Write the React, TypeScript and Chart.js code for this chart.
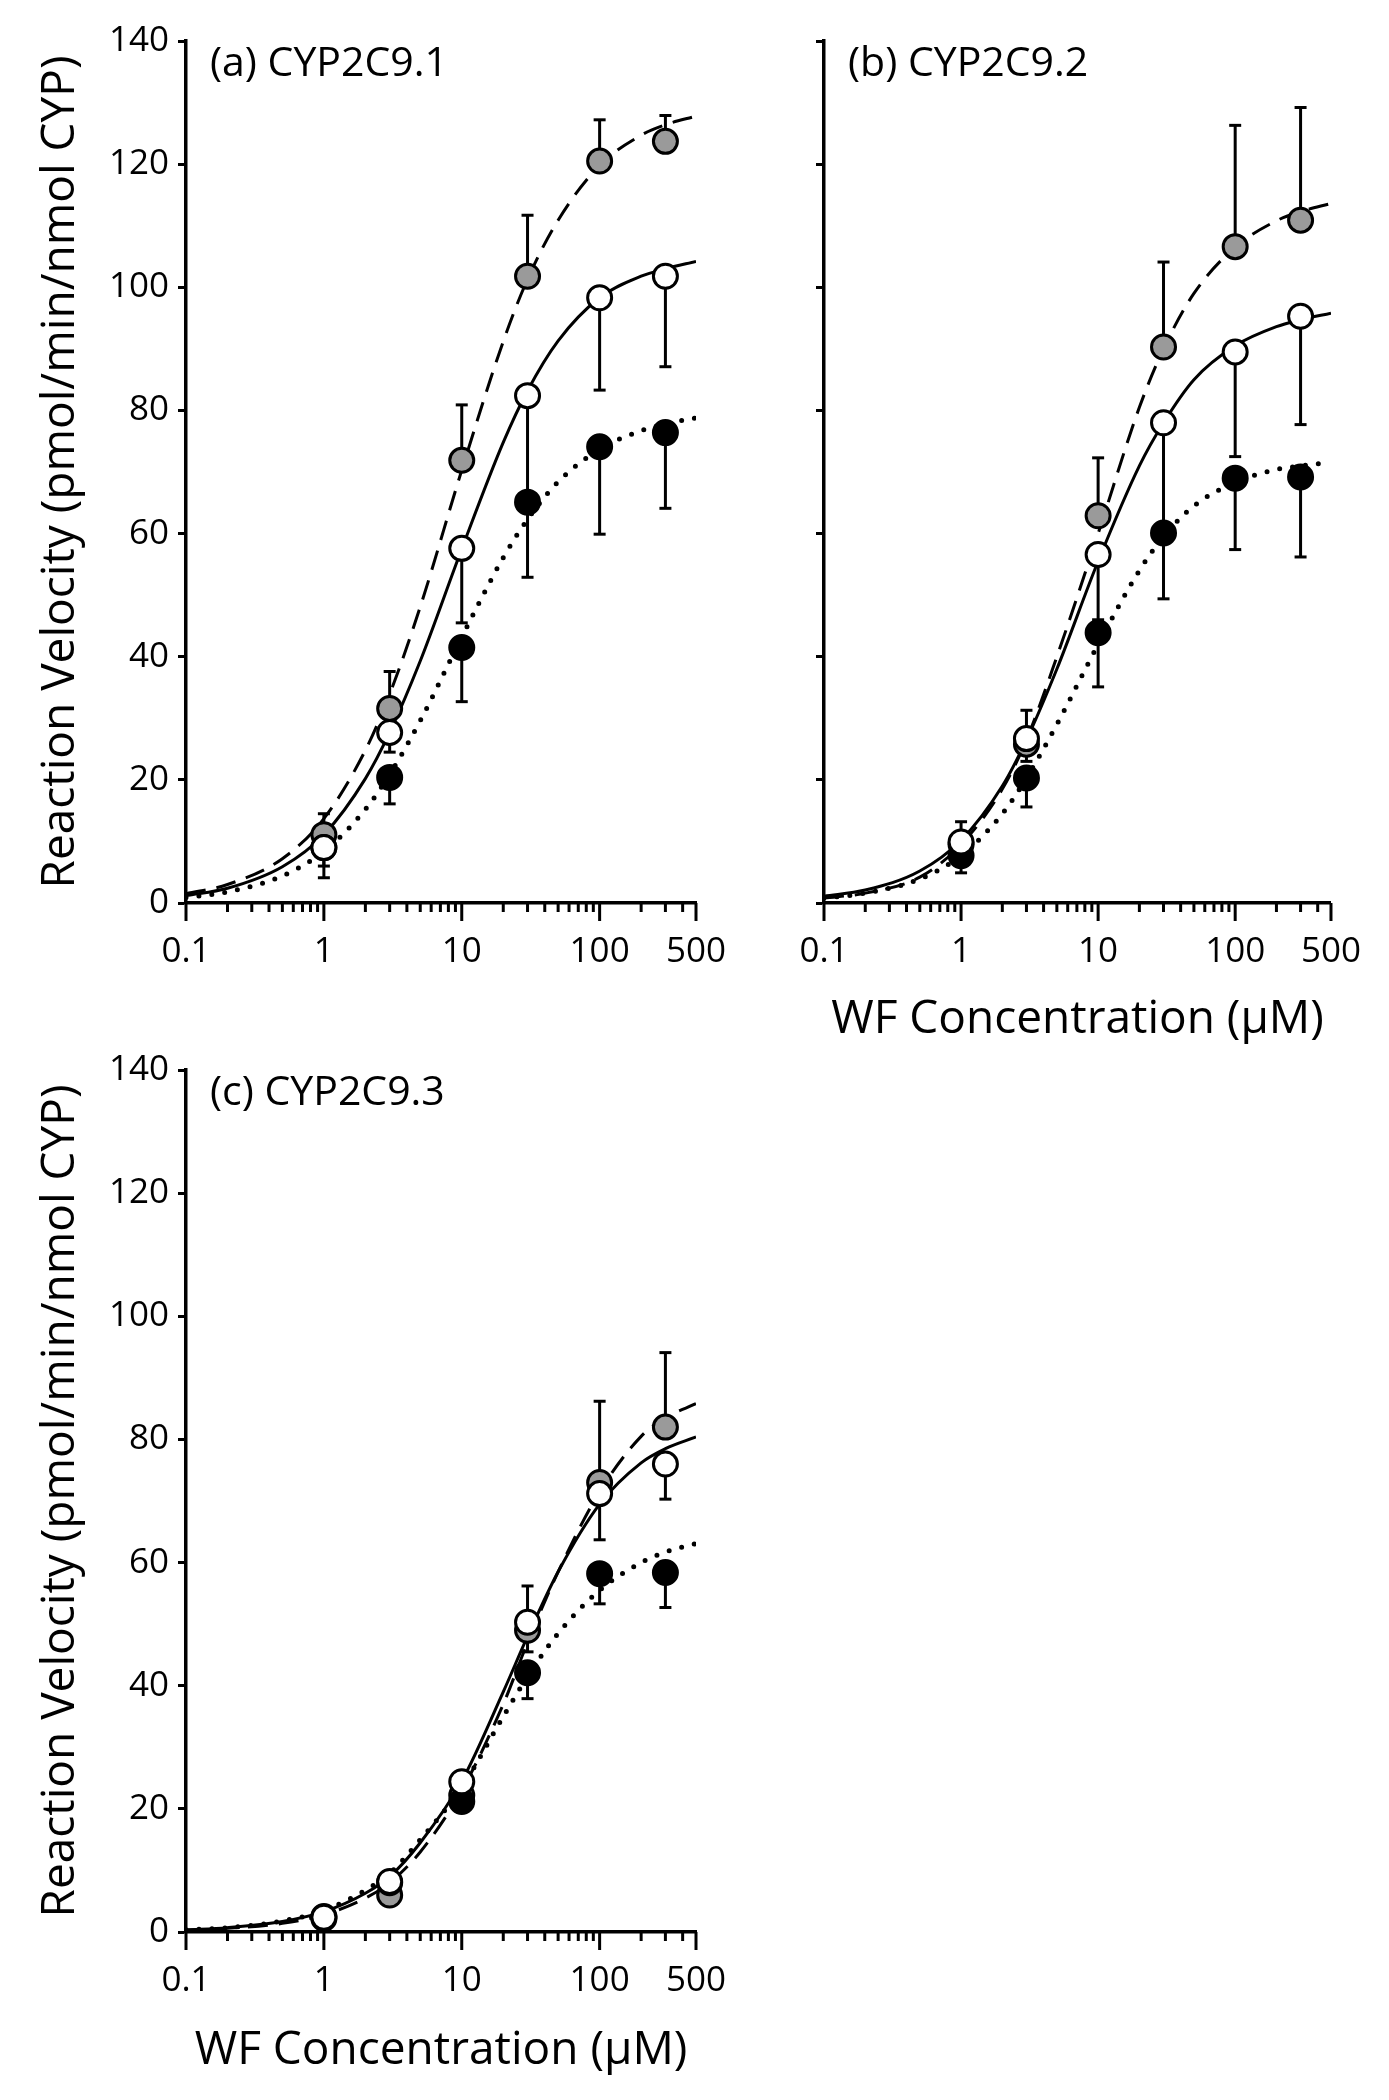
import React, { useEffect, useRef } from 'react';
import { Chart, registerables } from 'chart.js';

Chart.register(...registerables);

const FONT = "'Open Sans', 'Noto Sans', sans-serif";

// ---- axis text ----
const Y_TITLE = 'Reaction Velocity (pmol/min/nmol CYP)';
const X_TITLE = 'WF Concentration (μM)';
const X_LABELED = [0.1, 1, 10, 100, 500];
const X_TICK_LABELS = ['0.1', '1', '10', '100', '500'];
const X_MINOR = [0.2, 0.3, 0.4, 0.5, 0.6, 0.7, 0.8, 0.9, 2, 3, 4, 5, 6, 7, 8, 9, 20, 30, 40, 50, 60, 70, 80, 90, 200, 300, 400];
const X_MAJOR = [0.1, 1, 10, 100, 500];

// ---- measured concentrations ----
const CONC = [1, 3, 10, 30, 100, 300];

// ---- fitted curve sample points ----
const FIT_X = [0.1, 0.2, 0.5, 1, 2, 3, 5, 10, 20, 30, 50, 100, 200, 300, 500];

// Panel (a) CYP2C9.1
const A_TITLE = '(a) CYP2C9.1';
const A_GREY = [11.1, 31.6, 71.9, 101.8, 120.5, 123.7];
const A_GREY_ERR = [14.5, 37.6, 80.9, 111.7, 127.2, 127.9];
const A_WHITE = [9.0, 27.7, 57.6, 82.4, 98.3, 101.8];
const A_WHITE_ERR = [4.1, 24.5, 45.5, 64.0, 83.3, 87.1];
const A_BLACK = [9.0, 20.4, 41.5, 65.1, 74.1, 76.4];
const A_BLACK_ERR = [6.0, 16.1, 32.7, 52.9, 59.9, 64.1];
const A_GREY_FIT = [1.5, 3.0, 7.2, 13.7, 24.8, 33.9, 48.1, 70.3, 91.2, 101.3, 110.9, 119.8, 124.7, 126.4, 127.8];
const A_WHITE_FIT = [1.2, 2.4, 5.9, 11.1, 20.2, 27.7, 39.3, 57.5, 74.8, 83.2, 91.3, 98.3, 101.8, 103.0, 104.2];
const A_BLACK_FIT = [0.9, 1.8, 4.4, 8.4, 15.2, 20.9, 29.6, 43.2, 56.1, 62.3, 68.4, 73.7, 76.7, 77.8, 78.8];

// Panel (b) CYP2C9.2
const B_TITLE = '(b) CYP2C9.2';
const B_GREY = [9.5, 25.8, 62.9, 90.3, 106.6, 110.9];
const B_GREY_ERR = [13.2, 31.3, 72.3, 104.1, 126.3, 129.2];
const B_WHITE = [9.9, 26.7, 56.6, 78.0, 89.5, 95.3];
const B_WHITE_ERR = [6.0, 23.0, 46.0, 61.0, 72.5, 77.7];
const B_BLACK = [7.7, 20.3, 43.9, 60.1, 69.0, 69.2];
const B_BLACK_ERR = [4.9, 15.6, 35.1, 49.4, 57.4, 56.2];
const B_GREY_FIT = [0.8, 1.6, 4.2, 9.5, 18.5, 26.5, 40.0, 60.0, 80.5, 90.0, 99.0, 106.5, 110.8, 112.3, 113.6];
const B_WHITE_FIT = [1.1, 2.1, 5.2, 10.2, 19.0, 26.5, 38.0, 55.5, 71.0, 78.0, 85.0, 90.5, 93.6, 94.7, 95.8];
const B_BLACK_FIT = [0.8, 1.6, 3.9, 7.7, 14.5, 20.3, 29.0, 42.0, 54.0, 59.5, 64.5, 68.3, 70.4, 71.0, 71.6];

// Panel (c) CYP2C9.3
const C_TITLE = '(c) CYP2C9.3';
const C_GREY = [2.5, 6.0, 22.2, 49.0, 73.0, 82.0];
const C_GREY_ERR = [3.0, 7.0, 24.0, 56.2, 86.2, 94.1];
const C_WHITE = [2.4, 8.2, 24.4, 50.3, 71.2, 76.0];
const C_WHITE_ERR = [2.0, 7.0, 23.0, 45.5, 63.7, 70.3];
const C_BLACK = [2.2, 8.0, 21.2, 42.1, 58.2, 58.4];
const C_BLACK_ERR = [2.0, 6.0, 20.0, 37.9, 53.3, 52.7];
const C_GREY_FIT = [0.3, 0.6, 1.4, 2.8, 5.5, 8.0, 13.0, 23.0, 37.0, 47.0, 58.5, 71.5, 80.5, 83.5, 85.8];
const C_WHITE_FIT = [0.35, 0.7, 1.7, 3.3, 6.3, 9.0, 14.5, 24.5, 39.0, 48.0, 58.5, 69.5, 76.2, 78.5, 80.4];
const C_BLACK_FIT = [0.35, 0.7, 1.8, 3.5, 6.8, 9.5, 15.0, 23.5, 35.0, 41.5, 48.5, 55.5, 60.0, 61.7, 63.1];

const GREY = '#9a9a9a';

type Series = {
  title: string;
  grey: number[]; greyErr: number[];
  white: number[]; whiteErr: number[];
  black: number[]; blackErr: number[];
  greyFit: number[]; whiteFit: number[]; blackFit: number[];
};

type Layout = {
  left: number; top: number; w: number; h: number;
  padTop: number; padRight: number; yWidth: number; xHeight: number;
  yLabels: boolean; yTitle: boolean; xTitle: boolean; xTitlePad: number;
};

const pts = (xs: number[], ys: number[]) => xs.map((x, i) => ({ x, y: ys[i] }));

const errPts = (ys: number[], ends: number[]) => {
  const out: any[] = [];
  CONC.forEach((x, i) => {
    out.push({ x, y: ys[i] }, { x, y: ends[i] }, { x, y: null });
  });
  return out;
};
const errRadius = () => CONC.flatMap(() => [0, 6, 0]);

const panelTitlePlugin = {
  id: 'panelTitle',
  afterDraw(chart: any, _args: any, opts: any) {
    const { ctx, chartArea } = chart;
    ctx.save();
    ctx.font = `41px ${FONT}`;
    ctx.fillStyle = '#000';
    ctx.textAlign = 'left';
    ctx.textBaseline = 'alphabetic';
    ctx.fillText(opts.text, chartArea.left + 24, chartArea.top + 35);
    ctx.restore();
  },
};

const xTickPlugin = {
  id: 'xTickMarks',
  afterDraw(chart: any) {
    const sx = chart.scales.x;
    const ctx = chart.ctx;
    const b = chart.chartArea.bottom;
    ctx.save();
    ctx.strokeStyle = '#000';
    ctx.lineWidth = 3;
    ctx.lineCap = 'butt';
    const draw = (vals: number[], len: number) => {
      vals.forEach((v) => {
        const px = sx.getPixelForValue(v);
        ctx.beginPath();
        ctx.moveTo(px, b);
        ctx.lineTo(px, b + len);
        ctx.stroke();
      });
    };
    draw(X_MINOR, 9);
    draw(X_MAJOR, 18);
    ctx.restore();
  },
};

function makeConfig(s: Series, L: Layout) {
  const marker = (vals: number[], color: string, order: number) => ({
    data: pts(CONC, vals),
    showLine: false,
    pointRadius: 12,
    pointBorderWidth: 3,
    pointBorderColor: '#000',
    pointBackgroundColor: color,
    pointStyle: 'circle',
    order,
  });
  const err = (vals: number[], ends: number[], order: number) => ({
    data: errPts(vals, ends),
    borderColor: '#000',
    borderWidth: 3,
    pointRadius: errRadius(),
    pointStyle: 'line',
    pointBorderWidth: 3,
    pointBorderColor: '#000',
    spanGaps: false,
    tension: 0,
    order,
  });
  const fit = (vals: number[], dash: number[], width: number, cap: string, order: number) => ({
    data: pts(FIT_X, vals),
    borderColor: '#000',
    borderWidth: width,
    borderDash: dash,
    borderCapStyle: cap,
    pointRadius: 0,
    cubicInterpolationMode: 'monotone',
    fill: false,
    order,
  });

  return {
    type: 'line',
    data: {
      datasets: [
        marker(s.white, '#ffffff', 0),
        marker(s.black, '#000000', 1),
        marker(s.grey, GREY, 2),
        err(s.white, s.whiteErr, 3),
        err(s.black, s.blackErr, 4),
        err(s.grey, s.greyErr, 5),
        fit(s.whiteFit, [], 3, 'butt', 6),
        fit(s.blackFit, [0, 13], 5, 'round', 7),
        fit(s.greyFit, [20, 11], 3, 'butt', 8),
      ],
    },
    options: {
      responsive: false,
      animation: false,
      events: [],
      layout: { padding: { left: 0, top: L.padTop, right: L.padRight, bottom: 0 } },
      plugins: {
        legend: { display: false },
        tooltip: { enabled: false },
        panelTitle: { text: s.title },
      },
      scales: {
        x: {
          type: 'logarithmic',
          min: 0.1,
          max: 500,
          afterBuildTicks: (sc: any) => {
            sc.ticks = X_LABELED.map((v) => ({ value: v }));
          },
          afterFit: (sc: any) => {
            sc.height = L.xHeight;
          },
          ticks: {
            autoSkip: false,
            maxRotation: 0,
            minRotation: 0,
            padding: 28,
            color: '#000',
            font: { family: FONT, size: 35 },
            callback: (_v: any, i: number) => X_TICK_LABELS[i],
          },
          grid: { display: false, drawTicks: false },
          border: { display: true, color: '#000', width: 3.5 },
          title: {
            display: L.xTitle,
            text: X_TITLE,
            color: '#000',
            font: { family: FONT, size: 46 },
            padding: { top: 0, bottom: L.xTitlePad },
          },
        },
        y: {
          type: 'linear',
          min: 0,
          max: 140,
          afterFit: (sc: any) => {
            sc.width = L.yWidth;
          },
          ticks: {
            stepSize: 20,
            padding: 9,
            color: '#000',
            font: { family: FONT, size: 35 },
            callback: (v: any) => (L.yLabels ? String(v) : ''),
          },
          grid: {
            display: true,
            drawOnChartArea: false,
            drawTicks: true,
            tickLength: 8,
            tickWidth: 3,
            tickColor: '#000',
          },
          border: { display: true, color: '#000', width: 3.5 },
          title: {
            display: L.yTitle,
            text: Y_TITLE,
            color: '#000',
            font: { family: FONT, size: 46 },
            padding: { top: 33, bottom: 0 },
          },
        },
      },
    },
    plugins: [panelTitlePlugin, xTickPlugin],
  };
}

const SERIES_A: Series = {
  title: A_TITLE, grey: A_GREY, greyErr: A_GREY_ERR, white: A_WHITE, whiteErr: A_WHITE_ERR,
  black: A_BLACK, blackErr: A_BLACK_ERR, greyFit: A_GREY_FIT, whiteFit: A_WHITE_FIT, blackFit: A_BLACK_FIT,
};
const SERIES_B: Series = {
  title: B_TITLE, grey: B_GREY, greyErr: B_GREY_ERR, white: B_WHITE, whiteErr: B_WHITE_ERR,
  black: B_BLACK, blackErr: B_BLACK_ERR, greyFit: B_GREY_FIT, whiteFit: B_WHITE_FIT, blackFit: B_BLACK_FIT,
};
const SERIES_C: Series = {
  title: C_TITLE, grey: C_GREY, greyErr: C_GREY_ERR, white: C_WHITE, whiteErr: C_WHITE_ERR,
  black: C_BLACK, blackErr: C_BLACK_ERR, greyFit: C_GREY_FIT, whiteFit: C_WHITE_FIT, blackFit: C_BLACK_FIT,
};

const LAYOUT_A: Layout = { left: 0, top: 0, w: 760, h: 1040, padTop: 41, padRight: 64, yWidth: 186, xHeight: 137, yLabels: true, yTitle: true, xTitle: false, xTitlePad: 0 };
const LAYOUT_B: Layout = { left: 720, top: 0, w: 669, h: 1060, padTop: 41, padRight: 56, yWidth: 104, xHeight: 157, yLabels: false, yTitle: false, xTitle: true, xTitlePad: 13 };
const LAYOUT_C: Layout = { left: 0, top: 1040, w: 760, h: 1060, padTop: 30, padRight: 64, yWidth: 186, xHeight: 168, yLabels: true, yTitle: true, xTitle: true, xTitlePad: 22 };

function Panel({ series, layout }: { series: Series; layout: Layout }) {
  const ref = useRef<HTMLCanvasElement>(null);
  useEffect(() => {
    if (!ref.current) return;
    const chart = new Chart(ref.current, makeConfig(series, layout) as any);
    return () => chart.destroy();
  }, [series, layout]);
  return (
    <canvas
      ref={ref}
      width={layout.w}
      height={layout.h}
      style={{ position: 'absolute', left: layout.left, top: layout.top, width: layout.w, height: layout.h }}
    />
  );
}

export default function App() {
  return (
    <div style={{ position: 'absolute', left: 0, top: 0, width: 1389, height: 2100, background: '#fff' }}>
      <Panel series={SERIES_A} layout={LAYOUT_A} />
      <Panel series={SERIES_B} layout={LAYOUT_B} />
      <Panel series={SERIES_C} layout={LAYOUT_C} />
    </div>
  );
}
